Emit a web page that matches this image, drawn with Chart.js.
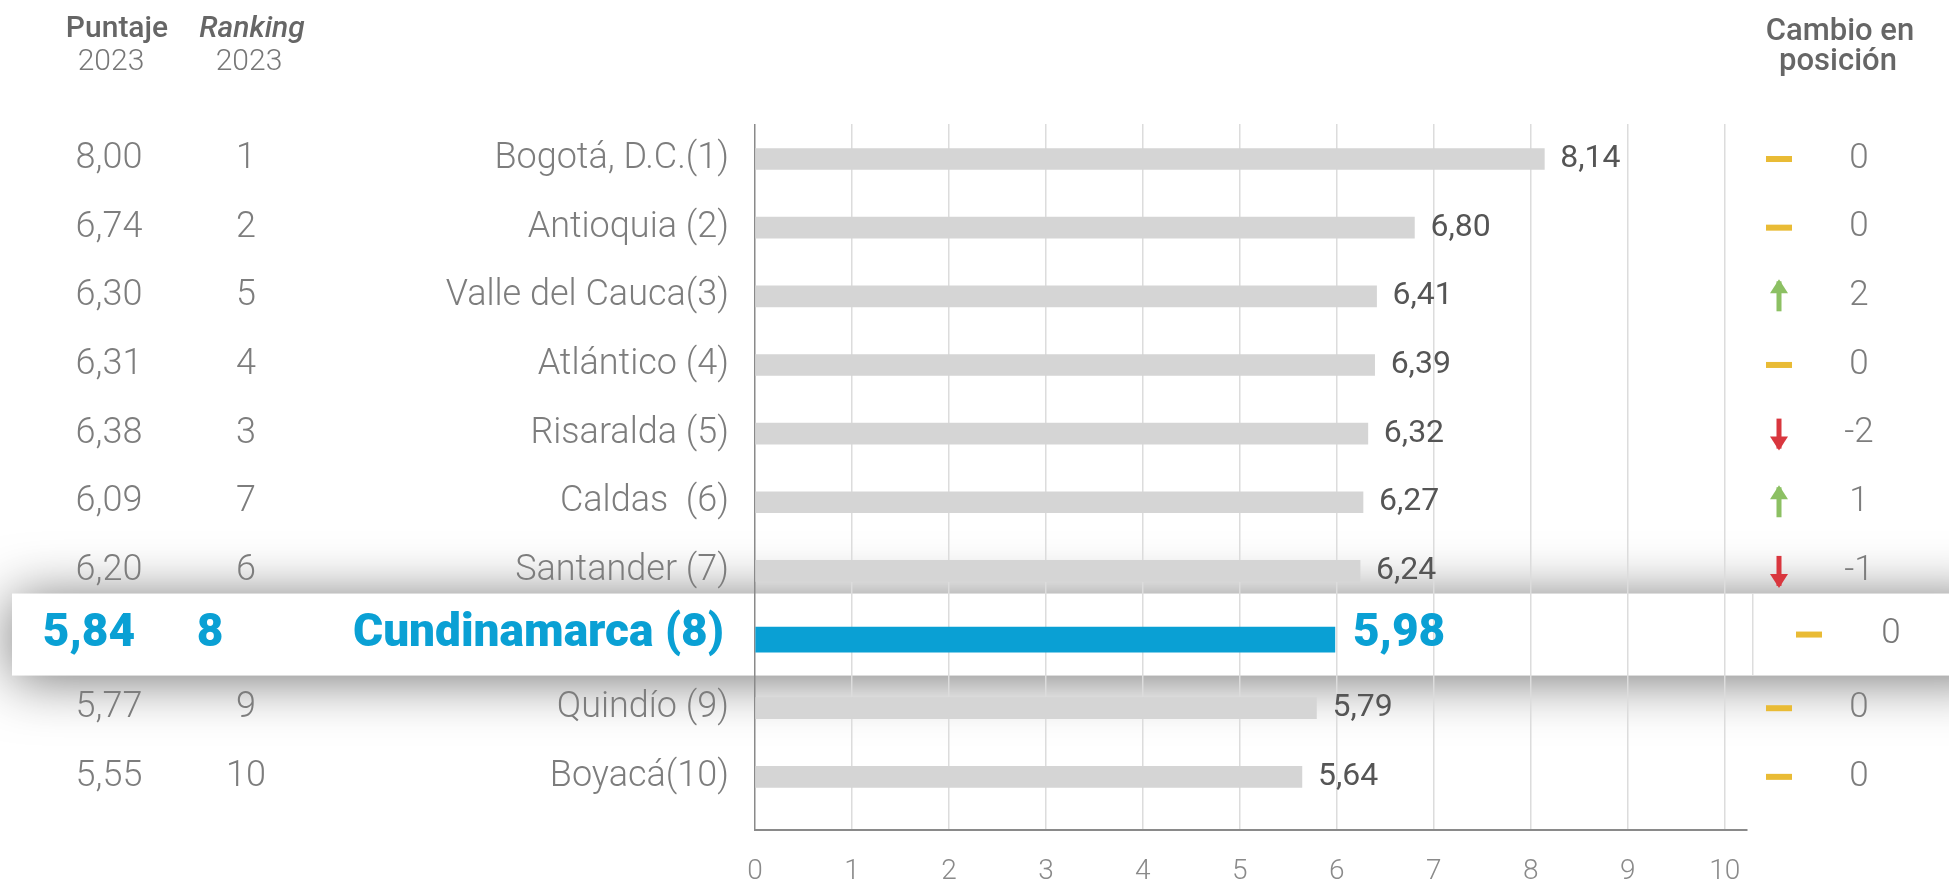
<!DOCTYPE html>
<html>
<head>
<meta charset="utf-8">
<script src="https://cdn.jsdelivr.net/npm/chart.js"></script>
<style>
  html, body { margin: 0; padding: 0; background: #fff; }
  #wrap { width: 1949px; height: 883px; position: relative; }
</style>
</head>
<body>
<div id="wrap"><canvas id="graf"></canvas></div>
<script>
const regiones = ["Bogotá, D.C.(1)", "Antioquia (2)", "Valle del Cauca(3)", "Atlántico (4)", "Risaralda (5)",
  "Caldas  (6)", "Santander (7)", "Cundinamarca (8)", "Quindío (9)", "Boyacá(10)"];
const puntaje2023 = ["8,00", "6,74", "6,30", "6,31", "6,38", "6,09", "6,20", "5,84", "5,77", "5,55"];
const ranking2023 = [1, 2, 5, 4, 3, 7, 6, 8, 9, 10];
const puntaje2024 = [8.14, 6.80, 6.41, 6.39, 6.32, 6.27, 6.24, 5.98, 5.79, 5.64];
const cambioPosicion = [0, 0, 2, 0, -2, 1, -1, 0, 0, 0];
const ejeTicks = [0, 1, 2, 3, 4, 5, 6, 7, 8, 9, 10];
const destacado = "Cundinamarca (8)";

const hl = regiones.indexOf(destacado);
const gris = "#d5d5d5";
const azul = "#0aa0d4";
const textoGris = "#7d7d7d";
const fmt = (v) => v.toFixed(2).replace(".", ",");

function flecha(ctx, x, y, n) {
  if (n === 0) {
    ctx.fillStyle = "#e9bb35";
    ctx.fillRect(x - 13, y - 3, 26, 6);
    return;
  }
  let up = n > 0;
  ctx.fillStyle = up ? "#8cc063" : "#d9363e";
  let d = up ? -1 : 1;
  ctx.fillRect(x - 2.5, y - 15, 5, 30);
  ctx.beginPath();
  ctx.moveTo(x, y + d * 17);
  ctx.lineTo(x - 9, y + d * 3);
  ctx.lineTo(x + 9, y + d * 3);
  ctx.closePath();
  ctx.fill();
}

const tarjeta = {
  id: "tarjeta",
  beforeDraw(chart) {
    let ctx = chart.ctx;
    let y = chart.scales.y.getPixelForValue(hl + 1) - 5;
    ctx.save();
    ctx.shadowColor = "rgba(0,0,0,0.55)";
    ctx.shadowBlur = 55;
    ctx.shadowOffsetY = 4;
    ctx.fillStyle = "#fff";
    ctx.fillRect(12, y - 41, chart.width + 40, 82);
    ctx.restore();
  },
  afterDraw(chart) {
    let ctx = chart.ctx;
    let xs = chart.scales.x, ys = chart.scales.y;
    ctx.save();
    ctx.textBaseline = "middle";
    // encabezados
    ctx.fillStyle = "#666";
    ctx.textAlign = "center";
    ctx.font = "500 30px Roboto";
    ctx.fillText("Puntaje", 117, 29);
    ctx.font = "italic 500 30px Roboto";
    ctx.fillText("Ranking", 252, 29);
    ctx.font = "500 31px Roboto";
    ctx.fillText("Cambio en", 1840, 32);
    ctx.fillText("posición", 1838, 62);
    ctx.font = "300 30px Roboto";
    ctx.fillStyle = "#777";
    ctx.fillText("2023", 111, 62);
    ctx.fillText("2023", 249, 62);

    regiones.forEach((r, i) => {
      let y = ys.getPixelForValue(i + 1);
      let xv = xs.getPixelForValue(puntaje2024[i]);
      if (i === hl) {
        let yc = y - 5;
        ctx.fillStyle = azul;
        ctx.font = "900 46px Roboto";
        ctx.textAlign = "center";
        ctx.fillText(puntaje2023[i], 89, yc);
        ctx.fillText(String(ranking2023[i]), 210, yc);
        ctx.textAlign = "right";
        ctx.fillText(r, 724, yc);
        ctx.textAlign = "left";
        ctx.fillText(fmt(puntaje2024[i]), xv + 18, yc);
        // separador dentro de la tarjeta
        ctx.fillStyle = "#ddd";
        ctx.fillRect(1752, yc - 41, 1.5, 82);
        flecha(ctx, 1809, yc, cambioPosicion[i]);
        ctx.fillStyle = "#777";
        ctx.font = "300 35px Roboto";
        ctx.textAlign = "center";
        ctx.fillText(String(cambioPosicion[i]), 1891, yc);
        return;
      }
      ctx.fillStyle = textoGris;
      ctx.font = "300 36px Roboto";
      ctx.textAlign = "center";
      ctx.fillText(puntaje2023[i], 109, y);
      ctx.fillText(String(ranking2023[i]), 246, y);
      ctx.textAlign = "right";
      ctx.fillText(r, 729, y);
      ctx.textAlign = "left";
      ctx.fillStyle = "#555";
      ctx.font = "400 32px Roboto";
      ctx.fillText(fmt(puntaje2024[i]), xv + 16, y);
      flecha(ctx, 1779, y, cambioPosicion[i]);
      ctx.fillStyle = textoGris;
      ctx.font = "300 35px Roboto";
      ctx.textAlign = "center";
      ctx.fillText(String(cambioPosicion[i]), 1859, y);
    });
    ctx.restore();
  },
};

new Chart(document.getElementById("graf"), {
  type: "bar",
  data: {
    datasets: [
      {
        data: puntaje2024.map((v, i) => ({ x: v, y: i + 1 })).filter((p, i) => i !== hl),
        backgroundColor: gris,
        barThickness: 21,
      },
      {
        data: [{ x: puntaje2024[hl], y: hl + 1 }],
        backgroundColor: azul,
        barThickness: 25,
      },
    ],
  },
  plugins: [tarjeta],
  options: {
    indexAxis: "y",
    responsive: true,
    maintainAspectRatio: false,
    animation: false,
    grouped: false,
    layout: { padding: { left: 755, right: 202, top: 124, bottom: -31 } },
    plugins: {
      legend: { display: false },
      tooltip: { enabled: false },
    },
    scales: {
      y: {
        type: "linear",
        reverse: true,
        offset: false,
        min: 0.49,
        max: 10.78,
        display: false,
      },
      x: {
        min: 0,
        max: 10.23,
        afterBuildTicks: (s) => {
          s.ticks = ejeTicks.map((v) => ({ value: v }));
        },
        ticks: {
          padding: 25,
          color: "#8a8a8a",
          font: { family: "Roboto", size: 28, weight: "300" },
        },
        grid: {
          drawTicks: false,
          lineWidth: 1.5,
          color: (c) => (c.tick && c.tick.value === 0 ? "#8a8a8a" : "#dcdcdc"),
        },
        border: { color: "#8a8a8a", width: 2 },
      },
    },
  },
});
</script>
</body>
</html>
